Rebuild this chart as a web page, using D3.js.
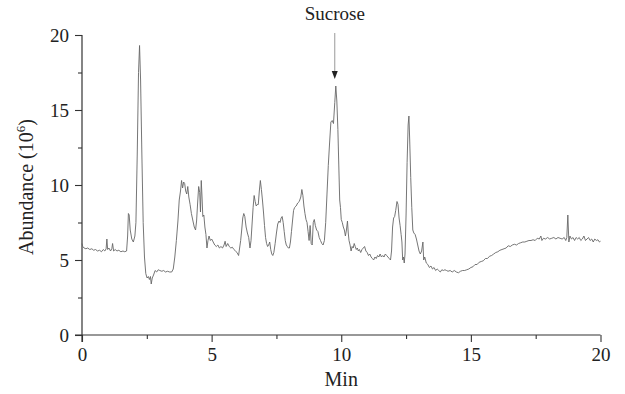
<!DOCTYPE html>
<html>
<head>
<meta charset="utf-8">
<script src="https://cdn.jsdelivr.net/npm/d3@7"></script>
<style>
  html, body { margin: 0; padding: 0; background: #fff; }
  svg { display: block; }
  text { font-family: "Liberation Serif", "Times New Roman", serif; fill: #222; }
</style>
</head>
<body>
<svg id="chart" width="625" height="394"></svg>
<script>
// Retention time (min)
const timeMin = [
0.00,0.03,0.08,0.15,0.22,0.30,0.38,0.45,0.52,0.60,0.68,0.75,0.82,0.88,0.93,0.96,0.99,1.04,1.10,1.15,1.18,1.22,1.28,1.35,1.42,1.50,1.58,1.65,1.72,1.76,1.79,1.82,1.86,1.92,1.98,2.04,2.08,2.13,2.18,2.22,2.26,2.31,2.36,2.41,2.46,2.51,2.56,2.60,2.64,2.67,2.71,2.76,2.82,2.88,2.94,3.00,3.08,3.15,3.22,3.30,3.38,3.46,3.52,3.58,3.64,3.70,3.75,3.80,3.84,3.88,3.92,3.96,4.00,4.04,4.08,4.12,4.17,4.22,4.28,4.33,4.38,4.42,4.46,4.50,4.54,4.57,4.60,4.63,4.66,4.70,4.74,4.78,4.82,4.86,4.90,4.95,5.00,5.06,5.12,5.18,5.24,5.30,5.36,5.42,5.48,5.52,5.56,5.62,5.68,5.74,5.80,5.86,5.92,5.98,6.04,6.08,6.12,6.16,6.20,6.24,6.28,6.33,6.38,6.43,6.48,6.52,6.56,6.60,6.64,6.68,6.72,6.76,6.80,6.84,6.88,6.92,6.96,7.00,7.04,7.08,7.12,7.16,7.20,7.24,7.28,7.32,7.36,7.40,7.45,7.50,7.55,7.60,7.64,7.68,7.72,7.76,7.80,7.84,7.88,7.92,7.96,8.00,8.04,8.08,8.12,8.16,8.20,8.26,8.32,8.38,8.44,8.48,8.52,8.56,8.60,8.64,8.68,8.72,8.76,8.80,8.84,8.88,8.92,8.96,9.00,9.05,9.10,9.15,9.20,9.25,9.30,9.35,9.40,9.45,9.50,9.55,9.60,9.65,9.70,9.75,9.79,9.83,9.87,9.91,9.94,9.97,10.00,10.04,10.08,10.12,10.16,10.20,10.24,10.27,10.30,10.34,10.38,10.42,10.46,10.50,10.54,10.58,10.62,10.66,10.70,10.75,10.80,10.85,10.90,10.95,11.00,11.05,11.10,11.15,11.20,11.25,11.30,11.35,11.40,11.45,11.50,11.55,11.60,11.65,11.70,11.75,11.80,11.85,11.90,11.94,11.98,12.02,12.06,12.10,12.15,12.19,12.23,12.27,12.31,12.34,12.37,12.40,12.43,12.46,12.50,12.54,12.58,12.61,12.64,12.68,12.72,12.76,12.80,12.85,12.90,12.95,13.00,13.05,13.10,13.15,13.18,13.22,13.28,13.34,13.40,13.46,13.52,13.58,13.64,13.70,13.76,13.82,13.88,13.94,14.00,14.06,14.12,14.20,14.28,14.36,14.44,14.52,14.60,14.68,14.76,14.84,14.92,15.00,15.08,15.16,15.24,15.32,15.40,15.48,15.56,15.64,15.72,15.80,15.88,15.96,16.04,16.12,16.20,16.28,16.36,16.44,16.52,16.60,16.68,16.76,16.84,16.92,17.00,17.08,17.16,17.24,17.32,17.40,17.48,17.56,17.64,17.70,17.74,17.80,17.88,17.96,18.04,18.12,18.20,18.28,18.36,18.44,18.52,18.60,18.66,18.70,18.74,18.78,18.82,18.88,18.94,19.00,19.06,19.12,19.18,19.24,19.30,19.36,19.42,19.48,19.54,19.60,19.66,19.72,19.78,19.84,19.90,19.96,20.00
];
// Abundance (10^6)
const abundance = [
6.1,5.9,5.8,5.75,5.8,5.7,5.75,5.65,5.7,5.6,5.65,5.55,5.7,5.6,5.75,6.4,5.7,5.8,5.6,5.75,6.1,5.6,5.7,5.6,5.65,5.55,5.6,5.55,5.6,6.6,8.1,8.0,7.0,6.4,6.2,6.6,7.5,12.0,17.5,19.3,17.0,12.0,7.5,5.2,4.1,3.8,3.9,3.7,3.9,3.4,3.8,4.0,4.3,4.2,4.35,4.3,4.25,4.3,4.2,4.25,4.2,4.2,4.4,5.2,6.3,7.6,9.0,9.6,10.3,9.8,10.2,10.1,9.6,9.4,9.9,9.2,8.7,8.1,7.6,7.2,7.0,7.6,8.8,9.9,9.5,8.2,10.3,9.2,7.9,8.0,7.2,6.7,5.8,6.3,6.6,6.3,6.4,6.2,6.0,5.9,6.0,5.8,5.9,5.8,6.0,6.25,5.9,6.1,5.9,5.8,5.85,5.7,5.6,5.5,5.3,5.8,6.3,7.0,7.8,8.1,7.9,7.2,6.8,6.5,5.8,6.3,7.4,8.5,9.3,8.9,8.6,8.7,8.7,9.6,10.3,9.7,9.0,8.2,7.3,6.5,6.1,5.9,6.0,6.2,5.7,5.4,5.3,5.5,6.1,6.8,7.4,7.6,7.5,7.8,7.9,7.5,6.9,6.3,6.0,5.9,5.8,5.8,6.2,6.9,7.6,8.3,8.5,8.6,8.8,8.9,9.2,9.7,9.3,8.6,8.1,7.7,7.5,6.9,6.3,7.3,6.1,6.0,7.5,7.7,7.3,7.0,6.9,6.5,6.3,6.1,6.0,6.3,7.5,9.4,11.3,12.8,14.2,14.3,14.1,15.5,16.6,15.6,13.7,11.0,9.0,8.5,7.7,7.5,7.2,7.0,6.6,7.0,7.6,6.8,6.3,6.0,5.6,5.9,5.8,6.1,5.9,5.7,5.8,5.6,5.7,5.5,5.7,5.8,5.9,5.6,5.5,5.3,5.4,5.2,5.1,5.0,5.2,5.1,5.3,5.2,5.4,5.2,5.3,5.2,5.4,5.3,5.2,5.1,5.0,5.6,7.2,7.8,7.9,8.3,8.9,8.7,7.8,7.3,6.7,6.2,5.0,5.2,4.8,5.4,8.0,11.5,14.0,14.6,13.0,10.5,8.5,7.0,6.8,6.7,6.4,6.0,5.6,5.4,5.6,6.2,5.0,5.2,4.8,4.7,4.5,4.6,4.4,4.5,4.3,4.4,4.3,4.2,4.35,4.3,4.35,4.3,4.25,4.3,4.2,4.3,4.2,4.15,4.25,4.3,4.3,4.35,4.4,4.5,4.55,4.7,4.7,4.85,4.9,4.95,5.1,5.1,5.25,5.3,5.4,5.5,5.55,5.65,5.7,5.75,5.8,5.95,5.9,6.0,6.05,6.0,6.1,6.15,6.2,6.2,6.25,6.3,6.3,6.35,6.3,6.45,6.4,6.6,6.3,6.45,6.4,6.5,6.4,6.45,6.5,6.4,6.5,6.45,6.4,6.5,6.3,6.5,8.0,6.2,6.6,6.4,6.5,6.3,6.5,6.4,6.5,6.3,6.4,6.6,6.3,6.4,6.5,6.3,6.4,6.2,6.4,6.3,6.35,6.2,6.25
];
const xTicks = [0, 5, 10, 15, 20];
const yTicks = [0, 5, 10, 15, 20];
const xMinorTicks = [2.5, 7.5, 12.5, 17.5];
const yMinorTicks = [2.5, 7.5, 12.5, 17.5];
const annotationLabel = "Sucrose";
const annotationTime = 9.75;

const svg = d3.select("#chart");
const x = d3.scaleLinear().domain([0, 20]).range([82, 600.5]);
const y = d3.scaleLinear().domain([0, 20]).range([335, 35]);

const axisColor = "#333";

// X axis
const gx = svg.append("g").attr("transform", `translate(0,${y(0)})`);
gx.call(d3.axisBottom(x).tickValues(xTicks).tickSize(7).tickPadding(6).tickFormat(d3.format("d")));
gx.append("g").call(d3.axisBottom(x).tickValues(xMinorTicks).tickSize(4).tickFormat(""));
gx.selectAll(".domain").remove();
gx.append("line").attr("x1", x(0) - 7).attr("x2", x(20)).attr("stroke", axisColor).attr("stroke-width", 1.2);

// Y axis
const gy = svg.append("g").attr("transform", `translate(${x(0)},0)`);
gy.call(d3.axisLeft(y).tickValues(yTicks).tickSize(7).tickPadding(6).tickFormat(d3.format("d")));
gy.append("g").call(d3.axisLeft(y).tickValues(yMinorTicks).tickSize(4).tickFormat(""));
gy.selectAll(".domain").remove();
gy.append("line").attr("y1", y(20)).attr("y2", y(0) + 7).attr("stroke", axisColor).attr("stroke-width", 1.2);

svg.selectAll(".tick line").attr("stroke", axisColor).attr("stroke-width", 1.1);
svg.selectAll(".tick text").attr("font-size", 19).attr("font-family", "Liberation Serif").attr("fill", "#222");

// Trace
const pts = timeMin.map((t, i) => [t, abundance[i]]);
svg.append("path")
  .datum(pts)
  .attr("fill", "none")
  .attr("stroke", "#666")
  .attr("stroke-width", 0.9)
  .attr("stroke-linejoin", "round")
  .attr("d", d3.line().x(d => x(d[0])).y(d => y(d[1])));

// Axis titles
svg.append("text")
  .attr("x", (x(0) + x(20)) / 2).attr("y", 386)
  .attr("text-anchor", "middle").attr("font-size", 20)
  .text("Min");

const yl = svg.append("text")
  .attr("transform", `translate(33,${(y(0) + y(20)) / 2 + 2}) rotate(-90)`)
  .attr("text-anchor", "middle").attr("font-size", 20);
yl.append("tspan").text("Abundance (10");
yl.append("tspan").attr("font-size", 13).attr("dy", -8).text("6");
yl.append("tspan").attr("dy", 8).text(")");

// Annotation
const ax = x(annotationTime);
svg.append("text")
  .attr("x", ax).attr("y", 20)
  .attr("text-anchor", "middle").attr("font-size", 19)
  .text(annotationLabel);
svg.append("line")
  .attr("x1", ax).attr("x2", ax).attr("y1", 33).attr("y2", 72)
  .attr("stroke", "#999").attr("stroke-width", 1);
svg.append("path")
  .attr("d", `M${ax - 3},71 L${ax + 3},71 L${ax},79 Z`)
  .attr("fill", "#222");
</script>
</body>
</html>
